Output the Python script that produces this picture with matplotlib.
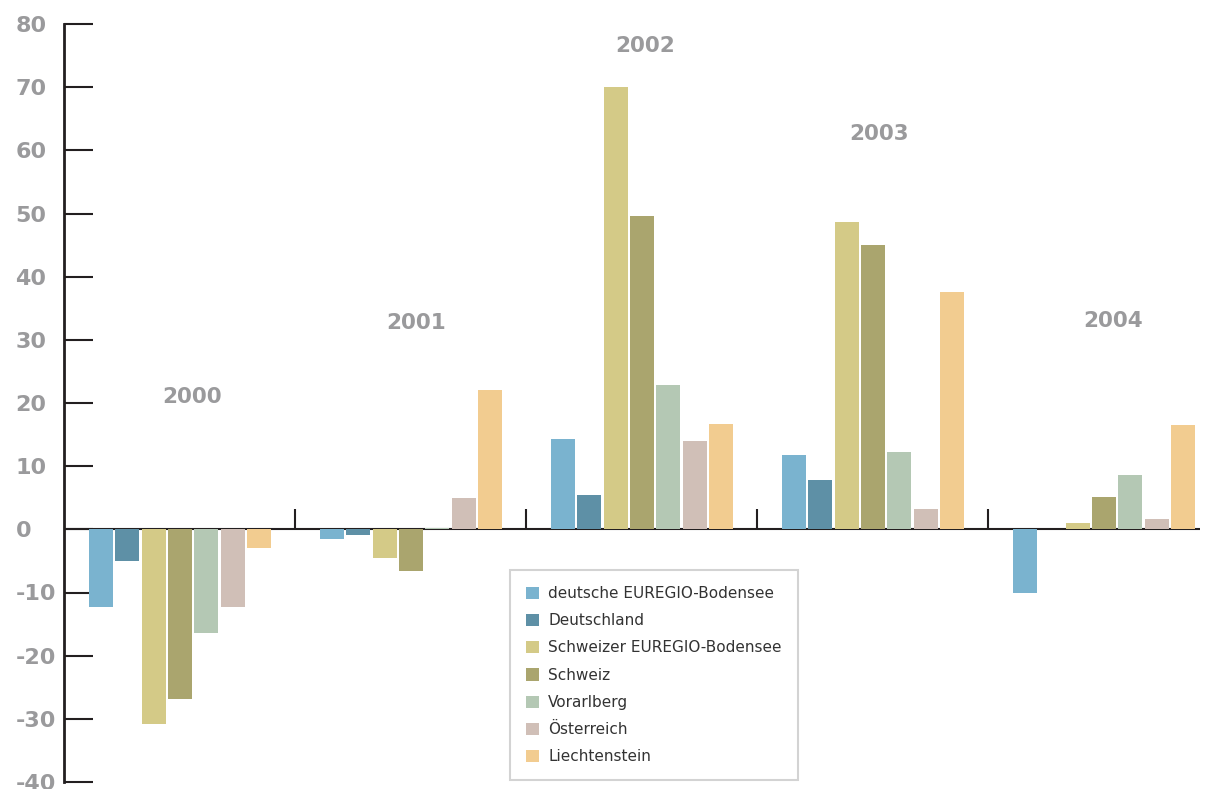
import matplotlib
matplotlib.use("Agg")
import matplotlib.pyplot as plt
import numpy as np

plt.rcParams["axes.unicode_minus"] = False

years = ["2000", "2001", "2002", "2003", "2004"]
series = ["deutsche EUREGIO-Bodensee", "Deutschland", "Schweizer EUREGIO-Bodensee",
          "Schweiz", "Vorarlberg", "Österreich", "Liechtenstein"]
colors = ["#7ab3cf", "#5e90a6", "#d4ca87", "#aaa56e", "#b4c8b4", "#d0bfb7", "#f2cc90"]

# values per series, one entry per year
de_euregio = [-12.3, -1.6, 14.3, 11.8, -10.1]
deutschland = [-5.0, -0.9, 5.5, 7.8, 0.1]
ch_euregio = [-30.8, -4.6, 70.1, 48.6, 1.0]
schweiz = [-26.8, -6.6, 49.6, 45.0, 5.1]
vorarlberg = [-16.4, 0.2, 22.8, 12.2, 8.6]
oesterreich = [-12.3, 4.9, 14.0, 3.2, 1.7]
liechtenstein = [-3.0, 22.1, 16.7, 37.6, 16.5]
values = [de_euregio, deutschland, ch_euregio, schweiz, vorarlberg, oesterreich, liechtenstein]

# where the year captions sit (group offset, y value)
label_dx = [0.554, 0.524, 0.515, 0.528, 0.541]
label_y = [20.9, 32.7, 76.5, 62.6, 33.0]

ink = "#231f20"
grey = "#9a9a9c"

fig = plt.figure(figsize=(12.1, 7.89), dpi=100)
ax = fig.add_axes([64 / 1210, 7 / 789, 1136 / 1210, 758 / 789])

groups = np.arange(len(years))
start, pitch, width = 0.108, 0.114, 0.104
for i, (name, vals, c) in enumerate(zip(series, values, colors)):
    ax.bar(groups + start + i * pitch, vals, width=width, align="edge",
           color=c, label=name, zorder=2)

ax.axhline(0, color=ink, lw=1.5, zorder=1)
ax.vlines(groups[1:], 0, 3.2, color=ink, lw=1.5, zorder=1)

for g, (yr, dx, ly) in enumerate(zip(years, label_dx, label_y)):
    ax.text(g + dx, ly, yr, ha="center", va="center", fontsize=15.5,
            fontweight="bold", color=grey)

ax.set_xlim(0, 1136 / 231)
ax.set_ylim(-40, 80)
ax.set_yticks(range(-40, 81, 10))
ax.set_xticks([])
for s in ["top", "right", "bottom"]:
    ax.spines[s].set_visible(False)
ax.spines["left"].set_linewidth(2)
ax.spines["left"].set_color(ink)
ax.tick_params(axis="y", direction="in", length=21, width=1.5, color=ink,
               pad=35, labelsize=16, labelcolor=grey)
for lab in ax.get_yticklabels():
    lab.set_ha("left")
    lab.set_fontweight("bold")

leg = ax.legend(loc="upper left", bbox_to_anchor=(510 / 1210, 1 - 570 / 789),
                bbox_transform=fig.transFigure, frameon=True, fancybox=False,
                fontsize=11, handlelength=0.85, handleheight=0.85,
                handletextpad=0.6, labelspacing=0.8, borderpad=1.05,
                borderaxespad=0)
leg.get_frame().set_edgecolor("#c8c8c8")
leg.get_frame().set_linewidth(1.5)
for t in leg.get_texts():
    t.set_color("#333333")

fig.savefig("out.png", dpi=100)
